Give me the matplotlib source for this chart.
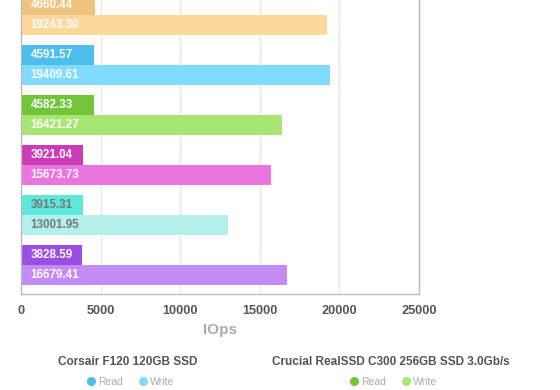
import numpy as np
import matplotlib.pyplot as plt
from matplotlib.lines import Line2D

plt.rcParams['font.family'] = ['Liberation Sans', 'DejaVu Sans']

# drives, top to bottom (the top of the chart is cut off in the original)
drives = ['Drive A', 'Corsair F120 120GB SSD', 'Crucial RealSSD C300 256GB SSD 3.0Gb/s',
          'Drive D', 'Drive E', 'Drive F']
read_iops = [4660.44, 4591.57, 4582.33, 3921.04, 3915.31, 3828.59]
write_iops = [19243.30, 19409.61, 16421.27, 15673.73, 13001.95, 16679.41]
read_colors = ['#efc27e', '#4dbdeb', '#72c53a', '#cc3cb8', '#5de8d9', '#9b4ee6']
write_colors = ['#fdd89b', '#80dcff', '#a8e673', '#eb75df', '#b4f0ea', '#c28bf5']
label_colors = ['white', 'white', 'white', 'white', '#777777', 'white']
xticks = [0, 5000, 10000, 15000, 20000, 25000]

fig = plt.figure(figsize=(5.6, 3.9), dpi=100)
ax = fig.add_axes([21/560, 96/390, 398/560, 294/390])

group = 50.0
bar_h = 20.0
y_read = 5 + group*np.arange(len(drives))
y_write = y_read + bar_h

ax.barh(y_read, read_iops, height=bar_h, color=read_colors, zorder=2)
ax.barh(y_write, write_iops, height=bar_h, color=write_colors, zorder=2)

for i in range(len(drives)):
    for y, v in [(y_read[i], read_iops[i]), (y_write[i], write_iops[i])]:
        ax.annotate('%.2f' % v, xy=(0, y), xytext=(7, 0), textcoords='offset points',
                    ha='left', va='center', fontsize=8.4, fontweight='bold',
                    color=label_colors[i], zorder=3)

ax.set_xlim(0, 25000)
ax.set_ylim(294, 0)
ax.set_yticks([])
ax.set_xticks(xticks)
ax.set_xticklabels([str(t) for t in xticks], fontsize=9.2, fontweight='bold', color='#555555')
ax.tick_params(axis='x', length=0, pad=8)
ax.grid(axis='x', color='#e8e8e8', lw=1, zorder=0)
ax.set_axisbelow(True)
for s in ['left', 'bottom', 'right']:
    ax.spines[s].set_color('#bbbbbb')
    ax.spines[s].set_linewidth(1)
ax.spines['top'].set_visible(False)
ax.set_xlabel('IOps', fontsize=11, fontweight='bold', color='#aaaaaa', labelpad=4)

# legends, one per drive shown
for i, xc in [(1, 128/560), (2, 391/560)]:
    fig.text(xc, 1 - 362/390, drives[i], ha='center', va='center',
             fontsize=8.5, fontweight='bold', color='#555555')
    handles = [Line2D([], [], ls='none', marker='o', ms=5.5, color=read_colors[i]),
               Line2D([], [], ls='none', marker='o', ms=5.5, color=write_colors[i])]
    leg = fig.legend(handles, ['Read', 'Write'], ncol=2, loc='center',
                     bbox_to_anchor=(xc + 2/560, 1 - 382/390), frameon=False, fontsize=7.5,
                     handletextpad=0.2, columnspacing=1.4,
                     borderaxespad=0, borderpad=0, handlelength=1.0)
    for t in leg.get_texts():
        t.set_color('#aaaaaa')

fig.savefig('out.png', dpi=100)
